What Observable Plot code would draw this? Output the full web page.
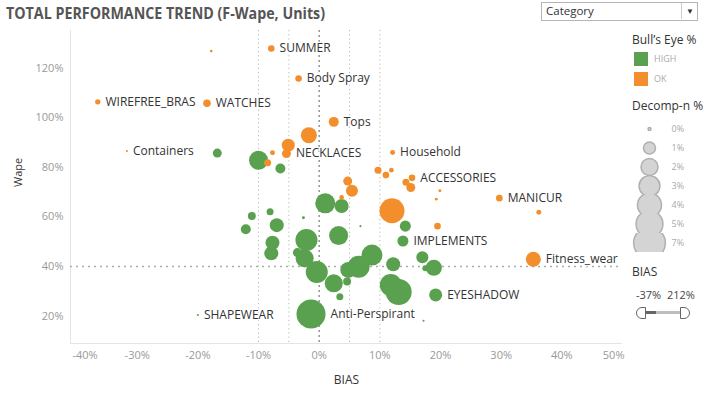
<!DOCTYPE html>
<html><head><meta charset="utf-8">
<script src="https://cdn.jsdelivr.net/npm/d3@7"></script>
<script src="https://cdn.jsdelivr.net/npm/@observablehq/plot@0.6"></script>
<style>
body{margin:0;background:#fff;font-family:"Open Sans",sans-serif;}
#wrap{position:relative;width:710px;height:394px;overflow:hidden;background:#fff;}
.abs{position:absolute;white-space:nowrap;line-height:16px;}
</style></head><body><div id="wrap"></div>
<script>
// ---- data ----
const categories = [
  "", "SUMMER", "Body Spray", "WIREFREE_BRAS", "WATCHES", "Containers", "Tops", "", "", "NECKLACES",
  "", "", "Household", "", "", "", "ACCESSORIES", "", "", "",
  "", "", "", "", "MANICUR", "", "", "", "Fitness_wear",
  "", "", "", "", "", "", "", "", "", "",
  "", "", "", "IMPLEMENTS", "", "", "", "", "", "",
  "", "", "", "", "", "", "", "", "", "",
  "", "EYESHADOW", "Anti-Perspirant", "", "SHAPEWEAR", ""
];
const bias = [
  -17.8, -7.9, -3.4, -36.5, -18.5, -31.7, 2.4, -1.7, -5.1, -5.4,
  -7.7, -8.5, 12.1, 9.7, 11.0, 11.9, 15.3, 14.3, 15.1, 4.7,
  5.4, 3.7, 19.9, 19.3, 29.7, 36.2, 12.0, 19.5, 35.3,
  -16.8, -10.0, -6.4, 1.0, 3.7, -11.1, -8.1, -12.1, -7.0, -2.6,
  3.2, 6.8, 14.2, 13.8, -7.7, -7.9, -2.1, -3.6, -2.4, -0.4,
  2.4, 4.6, 3.4, 8.7, 6.5, 12.2, 11.8, 13.1, 17.0, 18.9,
  17.5, 19.2, -1.35, 17.2, -20.0, 4.8
];
const wape = [
  127.0, 128.0, 115.9, 106.5, 105.9, 86.6, 98.4, 93.0, 89.0, 85.6,
  85.9, 81.9, 86.0, 78.9, 76.9, 78.9, 75.8, 74.0, 71.9, 74.5,
  70.6, 67.9, 70.6, 67.2, 67.6, 61.9, 62.5, 56.3, 42.9,
  85.8, 82.9, 79.6, 65.5, 64.4, 60.4, 62.1, 55.0, 56.7, 59.7,
  52.5, 56.3, 56.3, 50.3, 49.6, 45.3, 50.7, 45.6, 43.3, 37.8,
  33.2, 33.9, 27.8, 44.6, 39.9, 40.9, 32.5, 29.7, 43.7, 39.5,
  39.3, 28.5, 20.8, 18.1, 20.4, 38.6
];
const decomp = [
  0.05, 0.30, 0.30, 0.20, 0.40, 0.03, 0.69, 1.78, 1.17, 0.56,
  0.17, 0.34, 0.17, 0.34, 0.30, 0.15, 0.30, 0.34, 0.56, 0.56,
  1.00, 0.15, 0.06, 0.06, 0.30, 0.17, 4.34, 0.30, 1.56,
  0.56, 2.50, 0.69, 2.78, 1.36, 0.44, 0.34, 0.69, 1.36, 0.06,
  2.50, 0.03, 0.84, 0.84, 1.36, 1.36, 3.36, 0.56, 2.25, 3.36,
  2.25, 0.44, 0.34, 3.06, 3.36, 1.36, 3.36, 4.69, 1.00, 1.78,
  0.25, 1.17, 5.84, 0.03, 0.03, 1.78
];
const bullsEye = [
  "OK","OK","OK","OK","OK","OK","OK","OK","OK","OK",
  "OK","OK","OK","OK","OK","OK","OK","OK","OK","OK",
  "OK","OK","OK","OK","OK","OK","OK","OK","OK",
  "HIGH","HIGH","HIGH","HIGH","HIGH","HIGH","HIGH","HIGH","HIGH","HIGH",
  "HIGH","HIGH","HIGH","HIGH","HIGH","HIGH","HIGH","HIGH","HIGH","HIGH",
  "HIGH","HIGH","HIGH","HIGH","HIGH","HIGH","HIGH","HIGH","HIGH","HIGH",
  "HIGH","HIGH","HIGH","HIGH","HIGH","HIGH"
];
const beDomain = ["HIGH", "OK"];
const beColors = ["#59a14f", "#f28e2b"];
const xTicks = [-40, -30, -20, -10, 0, 10, 20, 30, 40, 50];
const yTicks = [20, 40, 60, 80, 100, 120];
const refX = [-10, -5, 0, 5, 10];
const refY = [40];
const sizeLabels = ["0%", "1%", "2%", "3%", "4%", "5%", "7%"];
const sizeValues = [0.06, 1, 2, 3, 4, 5, 7];
const biasRange = ["-37%", "212%"];

// ---- build ----
const wrap = document.getElementById("wrap");
const FONT = '"Open Sans", sans-serif';
const rMax = 15.9;
const rDomain = [0, 7];
const rScale = d3.scaleSqrt().domain(rDomain).range([0, rMax]);
const xDom = [-41, 50], yDom = [8.9, 135.3];

const data = categories.map((c, i) => ({name: c, bias: bias[i], wape: wape[i], decomp: decomp[i], be: bullsEye[i]}));
data.sort((a, b) => b.decomp - a.decomp);
const labeled = data.filter(d => d.name);

const fmt = d => d + "%";
const midX = xTicks.slice(1, -1);

const chart = Plot.plot({
  width: 630, height: 394,
  marginLeft: 70, marginRight: 8, marginTop: 30, marginBottom: 51,
  style: {background: "transparent", fontFamily: FONT, fontSize: "11px", overflow: "visible"},
  x: {domain: xDom, axis: null},
  y: {domain: yDom, axis: null},
  r: {domain: rDomain, range: [0, rMax]},
  color: {domain: beDomain, range: beColors},
  marks: [
    Plot.ruleY([yDom[0]], {stroke: "#e4e4e4"}),
    Plot.ruleX([xDom[0]], {stroke: "#e4e4e4"}),
    Plot.ruleX(refX.filter(d => d !== 0), {x: d => d, stroke: "#b8b8b8", strokeWidth: 1, strokeDasharray: "1.2,3"}),
    Plot.ruleX(refX.filter(d => d === 0), {x: d => d, stroke: "#999", strokeWidth: 1.6, strokeDasharray: "2,3"}),
    Plot.ruleY(refY, {y: d => d, stroke: "#aaa", strokeWidth: 1.6, strokeDasharray: "2,4"}),
    Plot.dot(data, {x: "bias", y: "wape", r: "decomp", fill: "be"}),
    ...labeled.map(d => Plot.text([d], {x: "bias", y: "wape", text: "name", dx: rScale(d.decomp) + 5, textAnchor: "start", fill: "#333", fontSize: 12, stroke: "white", strokeWidth: 2.5, strokeOpacity: 0.85})),
    Plot.text(yTicks, {y: d => d, text: fmt, frameAnchor: "left", dx: -7, textAnchor: "end", fill: "#999", fontSize: 11}),
    Plot.text(midX, {x: d => d, text: fmt, frameAnchor: "bottom", dy: 15, fill: "#999", fontSize: 11}),
    Plot.text([xTicks[0]], {x: () => xDom[0], text: fmt, frameAnchor: "bottom", dy: 15, dx: 2, textAnchor: "start", fill: "#999", fontSize: 11}),
    Plot.text([xTicks[xTicks.length - 1]], {x: () => xDom[1], text: fmt, frameAnchor: "bottom", dy: 15, dx: 2, textAnchor: "end", fill: "#999", fontSize: 11}),
    Plot.text(["BIAS"], {frameAnchor: "bottom", dy: 40, fill: "#333", fontSize: 12}),
    Plot.text(["Wape"], {frameAnchor: "left", dx: -52, rotate: -90, fill: "#333", fontSize: 11})
  ]
});
chart.style.position = "absolute";
chart.style.left = "0px";
chart.style.top = "0px";
wrap.appendChild(chart);

function addText(txt, left, cy, css) {
  const el = document.createElement("div");
  el.className = "abs";
  el.textContent = txt;
  el.style.left = left + "px";
  el.style.top = (cy - 8) + "px";
  Object.assign(el.style, css || {});
  wrap.appendChild(el);
  return el;
}

// title
const title = addText("TOTAL PERFORMANCE TREND (F-Wape, Units)", 6, 13, {fontSize: "16px", fontWeight: "700", color: "#555", transformOrigin: "0 50%"});
const tw = title.getBoundingClientRect().width;
title.style.transform = `scaleX(${319 / tw})`;

// dropdown
const dd = document.createElement("div");
Object.assign(dd.style, {position: "absolute", left: "541px", top: "2px", width: "155px", height: "17px", border: "1px solid #b5b5b5", background: "#fff"});
wrap.appendChild(dd);
addText("Category", 546, 11, {fontSize: "11.5px", color: "#333"});
const dv = document.createElement("div");
Object.assign(dv.style, {position: "absolute", left: "681px", top: "3px", width: "1px", height: "16px", background: "#ccc"});
wrap.appendChild(dv);
addText("\u25BC", 686, 11, {fontSize: "8px", color: "#333"});

// color legend
addText("Bull\u2019s Eye %", 632, 40, {fontSize: "12px", color: "#333"});
beDomain.forEach((k, i) => {
  const sw = document.createElement("div");
  Object.assign(sw.style, {position: "absolute", left: "634px", top: (52 + 20 * i) + "px", width: "14px", height: "14px", background: beColors[i]});
  wrap.appendChild(sw);
  addText(k, 654, 59 + 20 * i, {fontSize: "9px", color: "#aaa"});
});

// size legend
addText("Decomp-n %", 632, 106, {fontSize: "12px", color: "#333"});
const sizeRows = sizeLabels.map((l, i) => ({label: l, v: sizeValues[i]}));
const sizeLegend = Plot.plot({
  width: 70, height: 139, margin: 0,
  style: {background: "transparent", fontFamily: FONT, overflow: "visible"},
  fy: {domain: sizeLabels, axis: null, padding: 0},
  r: {domain: rDomain, range: [0, rMax]},
  marks: [
    Plot.dot(sizeRows, {fy: "label", r: "v", frameAnchor: "left", dx: 17, fill: "#d4d4d4", stroke: "#b0b0b0", clip: true}),
    Plot.text(sizeRows, {fy: "label", text: "label", frameAnchor: "left", dx: 39, textAnchor: "start", fill: "#aaa", fontSize: 9})
  ]
});
sizeLegend.style.position = "absolute";
sizeLegend.style.left = "632px";
sizeLegend.style.top = "116px";
wrap.appendChild(sizeLegend);

// BIAS filter
addText("BIAS", 632, 272, {fontSize: "12px", color: "#333"});
addText(biasRange[0], 636, 295, {fontSize: "11px", color: "#444"});
addText(biasRange[1], 667, 295, {fontSize: "11px", color: "#444"});
const track = document.createElement("div");
Object.assign(track.style, {position: "absolute", left: "642px", top: "311px", width: "40px", height: "3px", background: "#bdbdbd"});
wrap.appendChild(track);
const trackD = document.createElement("div");
Object.assign(trackD.style, {position: "absolute", left: "642px", top: "311px", width: "14px", height: "3px", background: "#666"});
wrap.appendChild(trackD);
[[636, "6px 0 0 6px"], [680, "0 6px 6px 0"]].forEach(([l, br]) => {
  const k = document.createElement("div");
  Object.assign(k.style, {position: "absolute", left: l + "px", top: "307px", width: "8px", height: "10px", border: "1px solid #666", borderRadius: br, background: "#fff"});
  wrap.appendChild(k);
});
</script></body></html>
